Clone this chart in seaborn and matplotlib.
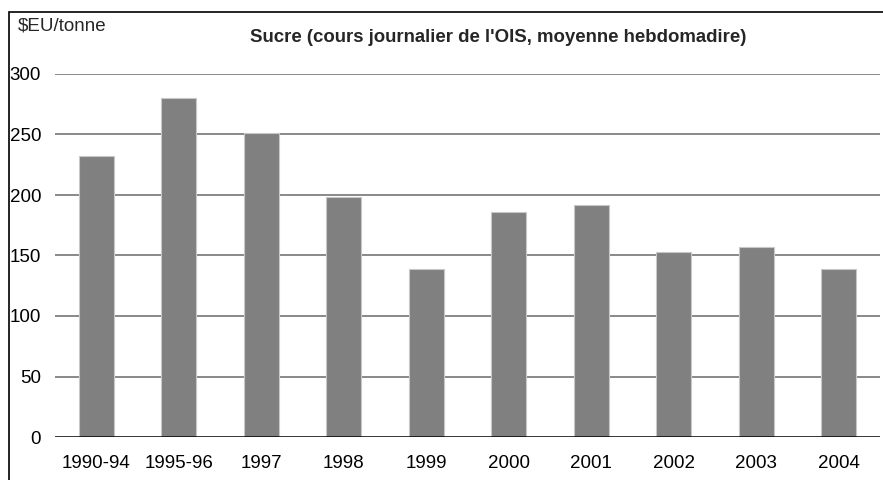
import matplotlib
matplotlib.use("Agg")
import matplotlib.pyplot as plt
from matplotlib.patches import Rectangle
import pandas as pd
import seaborn as sns

# Data
periods = ["1990-94", "1995-96", "1997", "1998", "1999",
           "2000", "2001", "2002", "2003", "2004"]
prices = [232, 280, 251, 198, 139, 186, 192, 153, 157, 139]
y_ticks = [0, 50, 100, 150, 200, 250, 300]

df = pd.DataFrame({"period": periods, "price": prices})

sns.set_style("white")
plt.rcParams["font.family"] = ["Liberation Sans", "DejaVu Sans"]

W, H = 883, 480
fig = plt.figure(figsize=(W / 100, H / 100), dpi=100)
ax = fig.add_axes([55 / W, 43 / H, 825 / W, (437 - 74) / H])

# gridlines under the bars
for t in y_ticks[1:]:
    ax.axhline(t, color="#6a6a6a", lw=1.1, zorder=0)
ax.axhline(0, color="black", lw=1.1, zorder=3)

sns.barplot(data=df, x="period", y="price", ax=ax, color="#808080",
            saturation=1, width=0.42, edgecolor="#c8c8c8", linewidth=0.8,
            zorder=2)

ax.set_ylim(0, 300)
ax.set_xlim(-0.5, len(periods) - 0.5)
ax.set_yticks(y_ticks)
ax.set_yticklabels([str(t) for t in y_ticks])
ax.tick_params(axis="both", length=0, labelsize=13.5, colors="black")
ax.tick_params(axis="y", pad=10)
ax.tick_params(axis="x", pad=13)
ax.set_xlabel("")
ax.set_ylabel("")
for s in ax.spines.values():
    s.set_visible(False)

fig.text(18 / W, 1 - 26 / H, "$EU/tonne", fontsize=13.5, va="center", ha="left")
fig.text(498 / W, 1 - 38 / H, "Sucre (cours journalier de l'OIS, moyenne hebdomadire)",
         fontsize=13.4, fontweight="bold", va="center", ha="center")

# outer frame (cropped at right and bottom)
fig.patches.append(Rectangle((8.5 / W, -0.2), 1.5, (H - 11.5) / H + 0.2,
                             transform=fig.transFigure, fill=False,
                             edgecolor="black", lw=1.2, clip_on=False))

fig.savefig("out.png", dpi=100)
